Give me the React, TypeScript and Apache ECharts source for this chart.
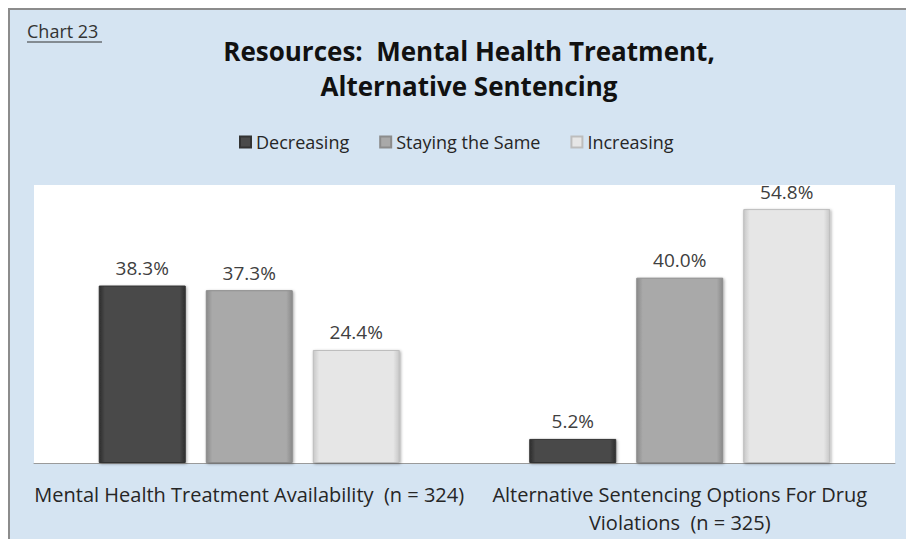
import React, { useEffect, useRef } from "react";
import * as echarts from "echarts";

const categories = [
  "Mental Health Treatment Availability  (n = 324)",
  "Alternative Sentencing Options For Drug\nViolations  (n = 325)",
];
const seriesNames = ["Decreasing", "Staying the Same", "Increasing"];
const decreasing = [38.3, 5.2];
const stayingSame = [37.3, 40.0];
const increasing = [24.4, 54.8];
const yMin = 0;
const yMax = 60;

const FONT = "'Open Sans', Lato, sans-serif";

const barFill = (edge: string, base: string) =>
  new echarts.graphic.LinearGradient(0, 0, 1, 0, [
    { offset: 0, color: edge },
    { offset: 0.07, color: base },
    { offset: 0.93, color: base },
    { offset: 1, color: edge },
  ]);

export default function App() {
  const ref = useRef<HTMLDivElement>(null);
  useEffect(() => {
    if (!ref.current) return;
    const chart = echarts.init(ref.current, undefined, { renderer: "svg" });
    const styles = [
      { edge: "#2e2e2e", base: "#4a4a4a", border: "#333333" },
      { edge: "#8a8a8a", base: "#a9a9a9", border: "#8c8c8c" },
      { edge: "#c8c8c8", base: "#e6e6e6", border: "#bdbdbd" },
    ];
    const values = [decreasing, stayingSame, increasing];
    chart.setOption({
      animation: false,
      textStyle: { fontFamily: FONT },
      graphic: [
        {
          type: "rect",
          z: -10,
          silent: true,
          shape: { x: 9, y: 9, width: 910, height: 540 },
          style: { fill: "#d5e4f2", stroke: "#8c8c8c", lineWidth: 2 },
        },
        {
          type: "text",
          x: 27,
          y: 31,
          style: {
            text: "Chart 23",
            fontFamily: FONT,
            fontSize: 18,
            fill: "#333333",
            textVerticalAlign: "middle",
          },
        },
        {
          type: "line",
          shape: { x1: 27, y1: 42, x2: 102, y2: 42 },
          style: { stroke: "#333333", lineWidth: 1 },
        },
      ],
      title: {
        text: "Resources:  Mental Health Treatment,\nAlternative Sentencing",
        left: 464,
        top: 28,
        textAlign: "center",
        textStyle: {
          fontFamily: FONT,
          fontSize: 26,
          fontWeight: "bold",
          color: "#111111",
          lineHeight: 35,
        },
      },
      legend: {
        left: 234,
        top: 128,
        itemWidth: 11,
        itemHeight: 11,
        itemGap: 30,
        icon: "rect",
        textStyle: { fontFamily: FONT, fontSize: 18, color: "#262626" },
        data: seriesNames,
      },
      grid: {
        left: 34,
        right: 11,
        top: 185,
        bottom: 76,
        show: true,
        backgroundColor: "#ffffff",
        borderWidth: 0,
      },
      xAxis: {
        type: "category",
        data: categories,
        axisLine: { show: true, lineStyle: { color: "#9a9a9a", width: 1 } },
        axisTick: { show: false },
        axisLabel: {
          interval: 0,
          margin: 17,
          fontFamily: FONT,
          fontSize: 20,
          lineHeight: 28,
          color: "#262626",
        },
      },
      yAxis: {
        type: "value",
        min: yMin,
        max: yMax,
        show: false,
        splitLine: { show: false },
      },
      series: seriesNames.map((name, i) => ({
        name,
        type: "bar",
        data: values[i],
        barWidth: 87,
        barGap: "23%",
        itemStyle: {
          color: barFill(styles[i].edge, styles[i].base),
          borderColor: styles[i].border,
          borderWidth: 1,
          shadowColor: "rgba(0,0,0,0.35)",
          shadowBlur: 3,
          shadowOffsetX: 1,
          shadowOffsetY: 1,
        },
        label: {
          show: true,
          position: "top",
          distance: 8,
          fontFamily: FONT,
          fontSize: 19,
          color: "#404040",
          formatter: (p: any) => Number(p.value).toFixed(1) + "%",
        },
      })),
    });
    return () => chart.dispose();
  }, []);
  return (
    <div
      ref={ref}
      style={{ position: "absolute", left: 0, top: 0, width: 906, height: 539 }}
    />
  );
}
